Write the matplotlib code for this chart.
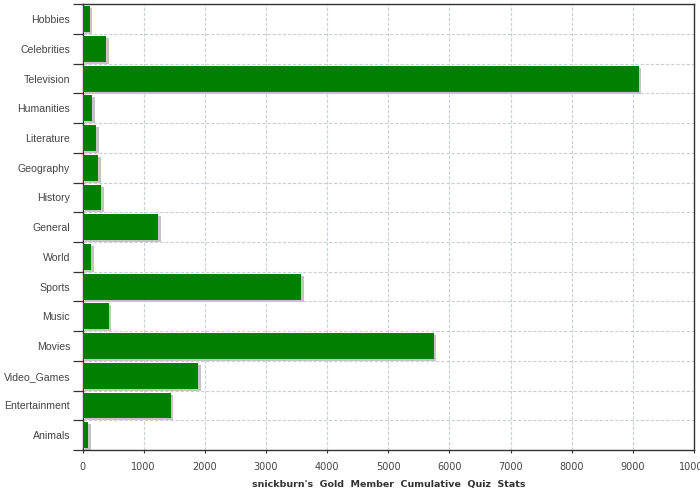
import numpy as np
import matplotlib
matplotlib.use("Agg")
import matplotlib.pyplot as plt
from matplotlib.transforms import ScaledTranslation

# 카테고리별 누적 퀴즈 점수 (위에서 아래 순서)
categories = ["Hobbies", "Celebrities", "Television", "Humanities", "Literature",
              "Geography", "History", "General", "World", "Sports", "Music",
              "Movies", "Video_Games", "Entertainment", "Animals"]
scores = [115, 390, 9100, 160, 225, 255, 310, 1240, 145, 3580, 430,
          5740, 1895, 1440, 95]
x_ticks = [0, 1000, 2000, 3000, 4000, 5000, 6000, 7000, 8000, 9000, 10000]
x_label = "snickburn's  Gold  Member  Cumulative  Quiz  Stats"

fig = plt.figure(figsize=(7, 5), dpi=100)
ax = fig.add_axes([82.5 / 700, 0.1, (694 - 82.5) / 700, (450 - 4.3) / 500])

y = np.arange(len(categories))
bar_h = 0.87

# 그림자: 오른쪽 아래로 2px 밀린 회색 막대
shadow = ax.transData + ScaledTranslation(0.025, -0.02, fig.dpi_scale_trans)
ax.barh(y, scores, height=bar_h, color="#c4c4c4", transform=shadow, zorder=2)
ax.barh(y, scores, height=bar_h, color="#008000", zorder=3)

ax.set_xlim(0, 10000)
ax.set_ylim(len(categories) - 0.5, -0.5)
ax.set_xticks(x_ticks)
ax.set_yticks(y)
ax.set_yticklabels(categories, family="Liberation Sans")
ax.set_yticks(np.arange(len(categories) + 1) - 0.5, minor=True)

# 격자: x는 1000 간격, y는 카테고리 경계
grid_kw = dict(color="#c9d0d6", linestyle=(0, (3, 1.6)), linewidth=0.8)
for xv in x_ticks[1:-1]:
    ax.axvline(xv, zorder=1, **grid_kw)
for yv in np.arange(1, len(categories)) - 0.5:
    ax.axhline(yv, zorder=1, **grid_kw)

for s in ax.spines.values():
    s.set_color("#333333")
    s.set_linewidth(1.0)

ax.tick_params(axis="y", which="major", length=0, pad=9,
               labelsize=7.6, labelcolor="#444444")
ax.tick_params(axis="y", which="minor", length=7.2, width=0.9, color="#333333")
ax.tick_params(axis="x", which="major", length=2, width=0.8, pad=6.5,
               labelsize=7, labelcolor="#444444", color="#333333")

ax.set_xlabel(x_label, fontsize=6.8, fontweight="bold", color="#333333", labelpad=6)

fig.savefig("out.png", dpi=100)
